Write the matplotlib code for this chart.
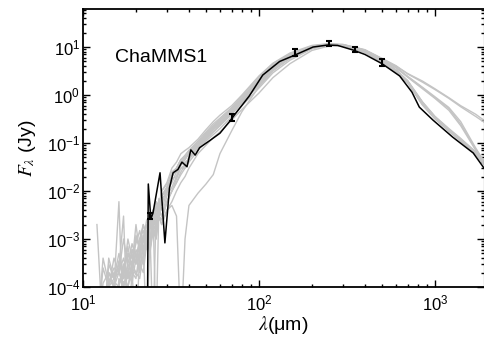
import matplotlib
matplotlib.use('Agg')
import matplotlib.pyplot as plt

# ---------------- data ----------------
source_name = "ChaMMS1"

# observed photometry (micron, Jy)
lam_obs = [24, 70, 160, 250, 350, 500]
flux_obs = [3.0e-3, 0.35, 7.9, 11.8, 9.0, 4.8]
err_obs = [0.45e-3, 0.06, 1.4, 1.3, 1.0, 0.7]

# best fitting model (black)
lam_best = [23.2, 23.5, 24.3, 25, 27.4, 29.2, 31, 32.5, 34.6, 36.5, 39, 41, 43.4, 46,
            53, 60, 68, 75, 88, 105, 131, 160, 203, 245, 280, 341, 400, 500, 630,
            740, 815, 975, 1260, 1650, 1900]
flux_best = [1e-5, 0.014, 2.6e-3, 3.5e-3, 0.024, 8.3e-4, 0.0115, 0.024, 0.028, 0.04,
             0.032, 0.072, 0.056, 0.08, 0.115, 0.16, 0.28, 0.45, 0.95, 2.6, 5.0, 6.8,
             10, 11, 10.8, 8.7, 7.0, 4.5, 2.5, 1.15, 0.56, 0.3, 0.133, 0.062, 0.03]

# other good models (grey), all on the same wavelength grid
lam_mod = [12, 13, 14, 15, 16, 17, 18, 19, 20, 21, 22, 23, 24, 25, 26, 27, 28,
           30, 32, 34, 36, 38, 40, 45, 50, 55, 60, 70, 80, 100, 120, 150, 200,
           250, 300, 400, 500, 600, 700, 850, 1000, 1200, 1400, 1700, 2000]

mod_1 = [1e-5, 1.2e-4, 2e-4, 1.5e-4, 3e-4, 2e-4, 5e-4, 4e-4, 3e-4, 8e-4, 5e-4, 1.5e-3,
         1e-3, 2.5e-3, 1.8e-3, 4e-3, 3e-3, 6e-3, 0.01, 0.015, 0.025, 0.035,
         0.05, 0.09, 0.14, 0.2, 0.27, 0.45, 0.8, 2.0, 3.8, 6.5, 10, 11.5, 11, 8, 5,
         3.2, 1.9, 0.68, 0.35, 0.19, 0.12, 0.065, 0.03]
mod_2 = [2e-3, 1e-5, 4e-4, 1.5e-4, 2e-4, 1e-4, 3e-4, 2e-4, 6e-4, 4e-4, 1.2e-3, 8e-4,
         2e-3, 1.5e-3, 5e-3, 3e-3, 8e-3, 0.012, 0.02, 0.03, 0.045, 0.055,
         0.07, 0.11, 0.17, 0.25, 0.33, 0.55, 0.95, 2.4, 4.5, 7.2, 10.5, 11.5, 10.8,
         7.7, 4.8, 3.0, 1.8, 0.64, 0.33, 0.18, 0.115, 0.062, 0.029]
mod_3 = [1e-5, 4e-4, 1.2e-4, 2e-4, 1e-5, 3e-4, 1.5e-4, 6e-4, 5e-4, 2e-4, 1e-3, 6e-4,
         1.5e-3, 3e-3, 2e-3, 6e-3, 4e-3, 0.01, 0.015, 0.025, 0.03, 0.03,
         0.04, 0.07, 0.11, 0.15, 0.2, 0.35, 0.6, 1.4, 2.9, 5.3, 9.2, 11, 10.8, 8.2,
         5.2, 3.3, 1.95, 0.7, 0.35, 0.19, 0.12, 0.064, 0.03]
mod_4 = [1e-5, 1e-5, 1.5e-4, 1e-4, 6e-3, 1e-5, 5e-4, 3e-4, 1e-3, 7e-4, 2e-3, 1.2e-3,
         3e-3, 2e-3, 6e-3, 5e-3, 0.01, 0.015, 0.03, 0.04, 0.06, 0.07,
         0.08, 0.12, 0.19, 0.28, 0.38, 0.6, 1.0, 2.5, 4.6, 7.5, 10.8, 11.8, 11, 7.8,
         4.9, 3.1, 1.85, 0.62, 0.32, 0.18, 0.11, 0.06, 0.028]
mod_5 = [1e-5, 1e-5, 1e-4, 1.5e-4, 2.5e-4, 3e-3, 1e-5, 2e-4, 1.5e-4, 6e-4, 3e-4, 1e-3,
         5e-4, 1.5e-3, 1e-3, 3e-3, 2e-3, 4e-3, 6e-3, 0.01, 0.015, 0.02,
         0.03, 0.06, 0.09, 0.13, 0.17, 0.3, 0.5, 1.1, 2.3, 4.5, 8.5, 10.5, 10.6, 8.3,
         5.3, 3.4, 2.0, 0.72, 0.36, 0.2, 0.125, 0.066, 0.031]
mod_6 = [1e-5, 1e-5, 3e-4, 1.5e-4, 5e-4, 2e-4, 1e-3, 4e-4, 8e-4, 1.5e-3, 6e-4, 2e-3,
         1.8e-3, 4e-3, 2.5e-3, 7e-3, 5e-3, 0.012, 0.02, 0.03, 0.04, 0.05,
         0.06, 0.1, 0.15, 0.22, 0.3, 0.5, 0.85, 2.1, 4.1, 6.8, 10.2, 11.3, 10.8, 7.9,
         5.0, 3.15, 1.8, 0.62, 0.32, 0.175, 0.11, 0.06, 0.028]
mod_7 = [1e-5, 1e-5, 1.2e-4, 2.5e-4, 2e-4, 4e-4, 1.5e-4, 3e-4, 2e-3, 5e-4, 1.2e-3, 1e-3,
         2.5e-3, 1.5e-3, 4e-3, 3.5e-3, 8e-3, 0.012, 0.02, 0.03, 0.045, 0.055,
         0.07, 0.1, 0.15, 0.21, 0.28, 0.47, 0.8, 1.9, 3.6, 6.2, 9.8, 11.2, 11, 8.4,
         5.4, 3.7, 2.4, 1.4, 0.88, 0.52, 0.25, 0.075, 0.03]
mod_8 = [1e-5, 1e-5, 1e-5, 1e-4, 2e-4, 1.5e-4, 2e-4, 1.2e-4, 4e-4, 2.5e-4, 7e-4, 1e-5,
         1e-3, 2e-3, 1.5e-3, 3e-3, 2.5e-3, 6e-3, 0.01, 0.015, 0.022, 0.03,
         0.05, 0.08, 0.12, 0.17, 0.23, 0.4, 0.7, 1.6, 3.2, 5.8, 9.5, 11.2, 11.2, 8.6,
         5.6, 3.8, 2.45, 1.45, 0.92, 0.55, 0.28, 0.08, 0.031]
mod_9 = [1e-5, 1e-5, 1e-5, 1.3e-4, 1e-4, 3e-4, 2e-4, 6e-4, 3e-4, 1e-3, 2e-3, 1e-3,
         3e-3, 2.5e-3, 6e-3, 4e-3, 0.01, 0.014, 0.025, 0.03, 0.045, 0.05,
         0.06, 0.09, 0.13, 0.19, 0.25, 0.43, 0.75, 1.8, 3.5, 6.0, 9.7, 11.3, 11.1,
         8.5, 5.5, 3.75, 2.35, 1.35, 0.85, 0.48, 0.23, 0.072, 0.03]
mod_10 = [1e-5, 1e-5, 1e-5, 1e-5, 1.2e-4, 2e-4, 1e-4, 3e-4, 2e-4, 1.5e-4, 5e-4, 1e-3,
          7e-4, 2e-3, 1.5e-3, 4e-3, 3e-3, 8e-3, 0.012, 0.02, 0.035, 0.045,
          0.06, 0.09, 0.14, 0.2, 0.26, 0.45, 0.78, 1.85, 3.6, 6.3, 10, 11.5, 11.3,
          8.7, 5.7, 4.0, 2.8, 1.95, 1.35, 0.88, 0.6, 0.4, 0.26]
mod_11 = [1e-5, 1e-5, 1e-5, 1e-5, 1e-5, 1.3e-4, 1e-4, 2.5e-4, 1.8e-4, 3e-4, 2e-4, 8e-4,
          6e-4, 1.5e-3, 1.2e-3, 3e-3, 2.5e-3, 6e-3, 0.01, 0.018, 0.03, 0.035,
          0.05, 0.08, 0.13, 0.19, 0.25, 0.42, 0.72, 1.7, 3.4, 6.0, 9.8, 11.4, 11.3,
          8.8, 5.8, 4.1, 2.75, 1.85, 1.3, 0.85, 0.57, 0.36, 0.24]
mod_12 = [1e-5, 1e-5, 1e-5, 1e-5, 1.5e-4, 1e-4, 2e-4, 2e-4, 1e-5, 5e-4, 3e-4, 1e-3,
          6e-4, 2e-3, 1e-3, 3e-3, 2e-3, 4e-3, 5e-3, 3e-3, 1e-5, 1e-3,
          0.005, 0.009, 0.014, 0.022, 0.06, 0.18, 0.45, 1.5, 3.2, 6.0, 9.8, 11.2, 10.8,
          8.0, 5.1, 3.2, 1.9, 0.66, 0.34, 0.185, 0.115, 0.062, 0.029]
mod_13 = [1e-5, 2.5e-4, 1e-4, 4e-4, 2e-4, 1e-3, 3e-4, 8e-4, 4e-4, 1e-3, 1.5e-3, 7e-4,
          2.2e-3, 4e-3, 1e-5, 5e-3, 8e-3, 0.01, 0.022, 0.025, 0.04, 0.045,
          0.065, 0.1, 0.16, 0.23, 0.31, 0.52, 0.88, 2.2, 4.2, 6.9, 10.3, 11.4, 10.9,
          7.8, 4.9, 3.1, 1.85, 0.65, 0.33, 0.18, 0.113, 0.061, 0.029]
mod_14 = [1e-5, 1e-5, 2e-4, 1e-4, 3.5e-4, 1.5e-4, 7e-4, 2e-4, 1.2e-3, 6e-4, 9e-4, 2.5e-3,
          1.5e-3, 1e-5, 3.5e-3, 2.5e-3, 7e-3, 9e-3, 0.018, 0.02, 0.035, 0.04,
          0.045, 0.08, 0.12, 0.17, 0.23, 0.4, 0.68, 1.6, 3.3, 5.8, 9.5, 11.2, 10.9,
          8.1, 5.1, 3.25, 1.95, 0.7, 0.35, 0.19, 0.12, 0.064, 0.03]

grey_models = [mod_1, mod_2, mod_3, mod_4, mod_5, mod_6, mod_7,
               mod_8, mod_9, mod_10, mod_11, mod_12, mod_13, mod_14]

# ---------------- plot ----------------
plt.rcParams['font.family'] = ['Liberation Sans', 'DejaVu Sans']
plt.rcParams['mathtext.fontset'] = 'stix'

fig = plt.figure(figsize=(4.85, 3.38), dpi=100)
ax = fig.add_axes([83 / 485, 1 - 287 / 338, 401 / 485, 278 / 338])

for m in grey_models:
    ax.plot(lam_mod, m, color='#c4c4c4', lw=1.0)

ax.plot(lam_best, flux_best, color='k', lw=1.1)
ax.errorbar(lam_obs, flux_obs, yerr=err_obs, fmt='none', ecolor='k',
            elinewidth=1.5, capsize=2.5, capthick=1.5)

ax.set_xscale('log')
ax.set_yscale('log')
ax.set_xlim(10, 1900)
ax.set_ylim(1e-4, 62)

ax.tick_params(which='both', direction='in', top=True, right=True,
               labelsize=12, width=1)
ax.tick_params(which='major', length=5)
ax.tick_params(which='minor', length=2.5)
ax.tick_params(axis='x', pad=5)
ax.tick_params(axis='y', pad=2)
for s in ax.spines.values():
    s.set_linewidth(1.3)
ax.spines['right'].set_linewidth(0.8)

ax.set_xlabel(r'$\lambda$(μm)', fontsize=14, labelpad=0)
ax.set_ylabel(r'$F_\lambda$ (Jy)', fontsize=14, labelpad=6)

ax.text(0.08, 0.81, source_name, transform=ax.transAxes, fontsize=14,
        va='baseline', ha='left')

fig.savefig('out.png', dpi=100)
